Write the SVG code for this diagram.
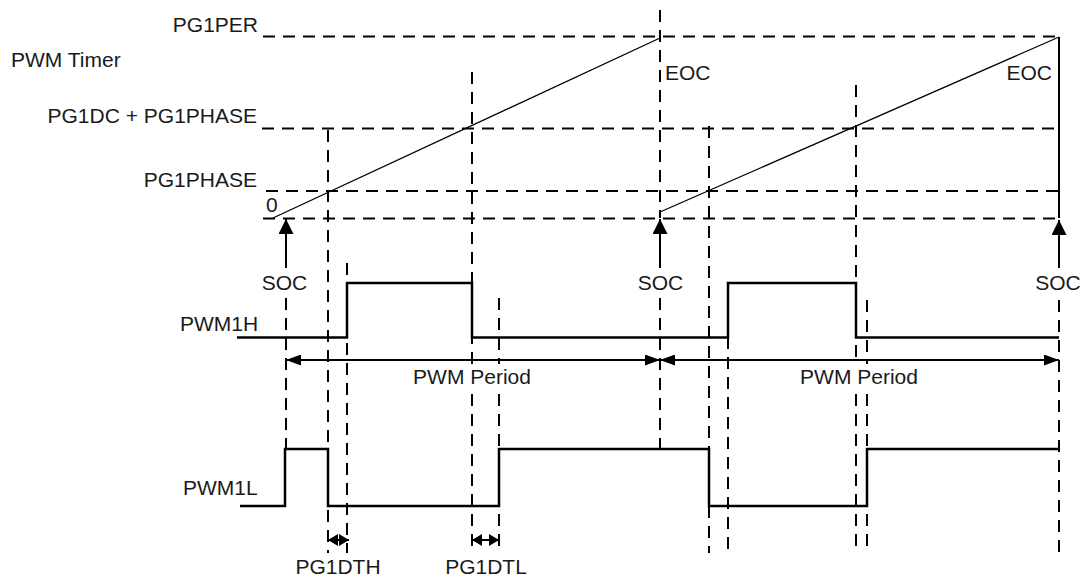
<svg xmlns="http://www.w3.org/2000/svg" width="1081" height="579" viewBox="0 0 1081 579">
<style>
.d{stroke:#000;stroke-width:2;stroke-dasharray:12 8;fill:none}
.w{stroke:#000;stroke-width:2.5;fill:none}
.r{stroke:#000;stroke-width:1.3;fill:none}
.a{stroke:#000;stroke-width:2;fill:none}
text{font-family:"Liberation Sans",Arial,Helvetica,sans-serif;font-size:21px;fill:#1a1a1a}
</style>
<defs>
<marker id="ah" markerUnits="userSpaceOnUse" markerWidth="15" markerHeight="11" refX="15" refY="5.5" orient="auto-start-reverse"><path d="M0,0 L15,5.5 L0,11 z" fill="#000"/></marker>
<marker id="soc" markerUnits="userSpaceOnUse" markerWidth="15" markerHeight="15" refX="15" refY="7.5" orient="auto"><path d="M0,0 L15,7.5 L0,15 z" fill="#000"/></marker>
<marker id="dt" markerUnits="userSpaceOnUse" markerWidth="10" markerHeight="12" refX="10" refY="6" orient="auto-start-reverse"><path d="M0,0 L10,6 L0,12 z" fill="#000"/></marker>
</defs>
<g id="grid">
<line class="d" x1="263" y1="36.5" x2="1059" y2="36.5"/>
<line class="d" x1="262" y1="128.5" x2="1059" y2="128.5"/>
<line class="d" x1="266" y1="191" x2="1059" y2="191"/>
<line class="d" x1="263" y1="218.5" x2="1059" y2="218.5"/>
<line class="d" x1="286" y1="298" x2="286" y2="449"/>
<line class="d" x1="328" y1="130" x2="328" y2="553"/>
<line class="d" x1="347" y1="263" x2="347" y2="553"/>
<line class="d" x1="472" y1="72" x2="472" y2="364"/>
<line class="d" x1="472" y1="394" x2="472" y2="553"/>
<line class="d" x1="499" y1="298" x2="499" y2="364"/>
<line class="d" x1="499" y1="394" x2="499" y2="553"/>
<line class="d" x1="660" y1="10" x2="660" y2="218"/>
<line class="d" x1="660" y1="298" x2="660" y2="449"/>
<line class="d" x1="709" y1="126" x2="709" y2="553"/>
<line class="d" x1="728" y1="337" x2="728" y2="553"/>
<line class="d" x1="856" y1="85" x2="856" y2="364"/>
<line class="d" x1="856" y1="394" x2="856" y2="553"/>
<line class="d" x1="867" y1="300" x2="867" y2="364"/>
<line class="d" x1="867" y1="394" x2="867" y2="553"/>
<line class="d" x1="1059" y1="300" x2="1059" y2="553"/>
</g>
<g id="timer">
<line class="r" x1="273" y1="218" x2="660" y2="38"/>
<line class="r" x1="660" y1="212" x2="1059" y2="37"/>
<line class="a" x1="1059" y1="37" x2="1059" y2="218"/>
</g>
<g id="pwm1h">
<path class="w" d="M237,337.5 H347 V283 H472 V337.5 H728 V283 H856 V337.5 H1059"/>
</g>
<g id="pwm1l">
<path class="w" d="M240,506 H285 V449 H328 V506 H499 V449 H709 V506 H867 V449 H1059"/>
</g>
<g id="connectors">
<line class="a" x1="286" y1="268" x2="286" y2="219" marker-end="url(#soc)"/>
<line class="a" x1="660" y1="268" x2="660" y2="219" marker-end="url(#soc)"/>
<line class="a" x1="1059" y1="268" x2="1059" y2="220" marker-end="url(#soc)"/>
<line class="a" x1="286" y1="360" x2="660" y2="360" marker-start="url(#ah)" marker-end="url(#ah)"/>
<line class="a" x1="660" y1="360" x2="1059" y2="360" marker-start="url(#ah)" marker-end="url(#ah)"/>
<line class="a" x1="328" y1="540" x2="349" y2="540" marker-start="url(#dt)" marker-end="url(#dt)"/>
<line class="a" x1="472" y1="540" x2="499" y2="540" marker-start="url(#dt)" marker-end="url(#dt)"/>
</g>
<g id="labels">
<text x="258" y="31.5" text-anchor="end">PG1PER</text>
<text x="11" y="67">PWM Timer</text>
<text x="257" y="123" text-anchor="end">PG1DC + PG1PHASE</text>
<text x="257" y="186.5" text-anchor="end">PG1PHASE</text>
<text x="266" y="212">0</text>
<text x="665" y="80">EOC</text>
<text x="1052" y="80" text-anchor="end">EOC</text>
<text x="284.5" y="290" text-anchor="middle">SOC</text>
<text x="660.5" y="290" text-anchor="middle">SOC</text>
<text x="1058" y="290" text-anchor="middle">SOC</text>
<text x="180" y="331">PWM1H</text>
<text x="472" y="384" text-anchor="middle">PWM Period</text>
<text x="859" y="384" text-anchor="middle">PWM Period</text>
<text x="183" y="495">PWM1L</text>
<text x="338" y="574" text-anchor="middle">PG1DTH</text>
<text x="486" y="574" text-anchor="middle">PG1DTL</text>
</g>
</svg>
